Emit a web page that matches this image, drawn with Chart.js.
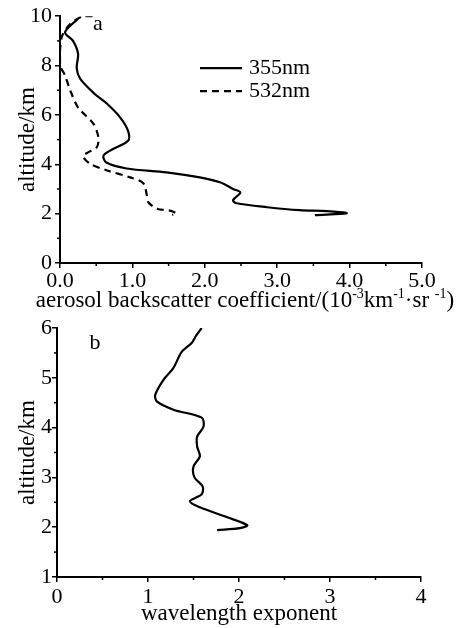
<!DOCTYPE html>
<html lang="en">
<head>
    <meta charset="UTF-8">
    <title>Aerosol backscatter and wavelength exponent profiles</title>
    <script src="https://cdn.jsdelivr.net/npm/chart.js"></script>
    <style>
        body { margin: 0; background: #fff; }
        .wrap { position: relative; width: 464px; height: 628px; overflow: hidden; }
    </style>
</head>
<body>
    <div class="wrap">
        <div style="position:absolute;left:0;top:0;width:464px;height:320px;"><canvas id="chartA"></canvas></div>
        <div style="position:absolute;left:0;top:305px;width:464px;height:323px;"><canvas id="chartB"></canvas></div>
    </div>

    <script>
        // panel a: backscatter profiles (altitude in km, coefficient in 10^-3 km^-1 sr^-1)
        const alt355 = [9.9, 9.35, 9.0, 8.47, 7.9, 7.46, 6.85, 6.45, 5.9, 5.35, 4.95, 4.6, 4.35, 4.07, 3.83, 3.67, 3.47, 3.27, 3.0, 2.86, 2.54, 2.42, 2.26, 2.14, 2.1, 2.02, 1.94];
        const bsc355 = [0.25, 0.07, 0.18, 0.25, 0.23, 0.28, 0.48, 0.65, 0.83, 0.94, 0.94, 0.72, 0.6, 0.64, 0.92, 1.47, 1.93, 2.21, 2.39, 2.49, 2.39, 2.44, 2.86, 3.31, 3.69, 3.96, 3.52];
        const alt532 = [10.0, 10.0, 9.68, 9.2, 8.6, 8.0, 7.6, 7.0, 6.3, 5.65, 5.1, 4.7, 4.5, 4.33, 4.03, 3.75, 3.47, 3.23, 2.74, 2.46, 2.2, 2.12, 2.0, 1.95];
        const bsc532 = [0.45, 0.32, 0.14, 0.03, 0.0, 0.0, 0.07, 0.14, 0.25, 0.46, 0.53, 0.51, 0.4, 0.32, 0.41, 0.65, 0.97, 1.15, 1.2, 1.22, 1.34, 1.52, 1.61, 1.55];

        // panel b: wavelength exponent profile
        const altExp = [6.0, 5.85, 5.7, 5.52, 5.2, 4.96, 4.66, 4.52, 4.36, 4.2, 4.02, 3.82, 3.62, 3.42, 3.22, 3.0, 2.82, 2.66, 2.52, 2.4, 2.2, 2.04, 1.98, 1.94];
        const wlExp  = [1.59, 1.53, 1.48, 1.37, 1.28, 1.17, 1.08, 1.1, 1.28, 1.59, 1.61, 1.54, 1.54, 1.57, 1.5, 1.51, 1.6, 1.59, 1.46, 1.57, 1.87, 2.09, 2.01, 1.76];

        const labelsA = ['355nm', '532nm'];
        // x title of panel a, split so the exponents can be drawn raised
        const xTitleAParts = [
            ['aerosol backscatter coefficient/(10', false], ['-3', true], ['km', false],
            ['-1', true], ['\u00B7sr ', false], ['-1', true], [')', false]
        ];
        const xTitleB = 'wavelength exponent';
        const yTitle = 'altitude/km';

        const FONT = "'Liberation Serif', 'Times New Roman', serif";
        Chart.defaults.font.family = FONT;
        Chart.defaults.color = '#000';

        const toPoints = (xs, ys) => xs.map((x, i) => ({x: x, y: ys[i]}));

        // short minor ticks between the labelled ones
        const minorTicks = {
            id: 'minorTicks',
            afterDraw(chart, args, opts) {
                const ctx = chart.ctx;
                ctx.save();
                ctx.strokeStyle = '#000';
                ctx.lineWidth = 1.5;
                const xs = chart.scales.x, ys = chart.scales.y;
                for (let v = xs.min + opts.xStep; v < xs.max; v += opts.xStep * 2) {
                    const px = xs.getPixelForValue(v);
                    ctx.beginPath(); ctx.moveTo(px, xs.top); ctx.lineTo(px, xs.top + 3); ctx.stroke();
                }
                for (let v = ys.min + opts.yStep; v < ys.max; v += opts.yStep * 2) {
                    const py = ys.getPixelForValue(v);
                    ctx.beginPath(); ctx.moveTo(ys.right, py); ctx.lineTo(ys.right - 3, py); ctx.stroke();
                }
                ctx.restore();
            }
        };

        // panel letter, the little legend and the long x title of panel a
        const annotate = {
            id: 'annotate',
            afterDraw(chart, args, opts) {
                const ctx = chart.ctx;
                const area = chart.chartArea;
                ctx.save();
                ctx.fillStyle = '#000';
                ctx.font = '22px ' + FONT;
                ctx.textBaseline = 'middle';
                ctx.textAlign = 'center';
                ctx.fillText(opts.letter, area.left + 38, area.top + opts.letterDy);
                if (opts.legend) {
                    ctx.textAlign = 'left';
                    chart.data.datasets.forEach((ds, i) => {
                        const y = area.top + 52 + i * 23;
                        ctx.strokeStyle = ds.borderColor;
                        ctx.lineWidth = ds.borderWidth;
                        ctx.setLineDash(ds.borderDash || []);
                        ctx.beginPath(); ctx.moveTo(area.left + 140, y); ctx.lineTo(area.left + 182, y); ctx.stroke();
                        ctx.setLineDash([]);
                        ctx.fillText(ds.label, area.left + 189, y);
                    });
                }
                if (opts.titleParts) {
                    const big = '23px ' + FONT, small = '14px ' + FONT;
                    let total = 0;
                    opts.titleParts.forEach(p => { ctx.font = p[1] ? small : big; total += ctx.measureText(p[0]).width; });
                    let x = opts.titleCx - total / 2;
                    const y = area.bottom + opts.titleDy;
                    ctx.textAlign = 'left';
                    ctx.textBaseline = 'alphabetic';
                    opts.titleParts.forEach(p => {
                        ctx.font = p[1] ? small : big;
                        ctx.fillText(p[0], x, p[1] ? y - 9 : y);
                        x += ctx.measureText(p[0]).width;
                    });
                }
                ctx.restore();
            }
        };

        function axisCommon(extra) {
            return Object.assign({
                type: 'linear',
                grid: { display: true, drawOnChartArea: false, drawTicks: true, tickLength: 5, color: '#000', lineWidth: 1.5 },
                border: { display: true, color: '#000', width: 2 }
            }, extra);
        }

        new Chart(document.getElementById('chartA'), {
            type: 'scatter',
            data: {
                datasets: [{
                    label: labelsA[0],
                    data: toPoints(bsc355, alt355),
                    showLine: true, borderColor: '#000', borderWidth: 2.2, pointRadius: 0, tension: 0.3
                }, {
                    label: labelsA[1],
                    data: toPoints(bsc532, alt532),
                    showLine: true, borderColor: '#000', borderWidth: 2.2, borderDash: [7, 5], pointRadius: 0, tension: 0.3
                }]
            },
            options: {
                responsive: true,
                maintainAspectRatio: false,
                animation: false,
                layout: { padding: { left: 0, right: 42, top: 15, bottom: 0 } },
                plugins: {
                    legend: { display: false },
                    tooltip: { enabled: false },
                    minorTicks: { xStep: 0.5, yStep: 1 },
                    annotate: { letter: 'a', letterDy: 8, legend: true, titleParts: xTitleAParts, titleCx: 245, titleDy: 44 }
                },
                scales: {
                    x: axisCommon({
                        min: 0, max: 5,
                        afterFit: s => { s.height = 57; },
                        ticks: { stepSize: 1, padding: 0, font: { size: 22 }, callback: v => Number(v).toFixed(1) },
                        title: { display: false }
                    }),
                    y: axisCommon({
                        min: 0, max: 10,
                        afterFit: s => { s.width = 60; },
                        ticks: { stepSize: 2, padding: 3, font: { size: 22 } },
                        title: { display: true, text: yTitle, font: { size: 23 }, padding: { top: 14, bottom: 0 } }
                    })
                }
            },
            plugins: [minorTicks, annotate]
        });

        new Chart(document.getElementById('chartB'), {
            type: 'scatter',
            data: {
                datasets: [{
                    label: xTitleB,
                    data: toPoints(wlExp, altExp),
                    showLine: true, borderColor: '#000', borderWidth: 2.2, pointRadius: 0, tension: 0.3
                }]
            },
            options: {
                responsive: true,
                maintainAspectRatio: false,
                animation: false,
                layout: { padding: { left: 0, right: 43, top: 23, bottom: 0 } },
                plugins: {
                    legend: { display: false },
                    tooltip: { enabled: false },
                    minorTicks: { xStep: 0.5, yStep: 0.5 },
                    annotate: { letter: 'b', letterDy: 15, legend: false }
                },
                scales: {
                    x: axisCommon({
                        min: 0, max: 4,
                        afterFit: s => { s.height = 51; },
                        ticks: { stepSize: 1, padding: 2, font: { size: 22 } },
                        title: { display: true, text: xTitleB, font: { size: 23 }, padding: { top: 0, bottom: 0 } }
                    }),
                    y: axisCommon({
                        min: 1, max: 6,
                        afterFit: s => { s.width = 57; },
                        ticks: { stepSize: 1, padding: 0, font: { size: 22 } },
                        title: { display: true, text: yTitle, font: { size: 23 }, padding: { top: 14, bottom: 0 } }
                    })
                }
            },
            plugins: [minorTicks, annotate]
        });
    </script>
</body>
</html>
